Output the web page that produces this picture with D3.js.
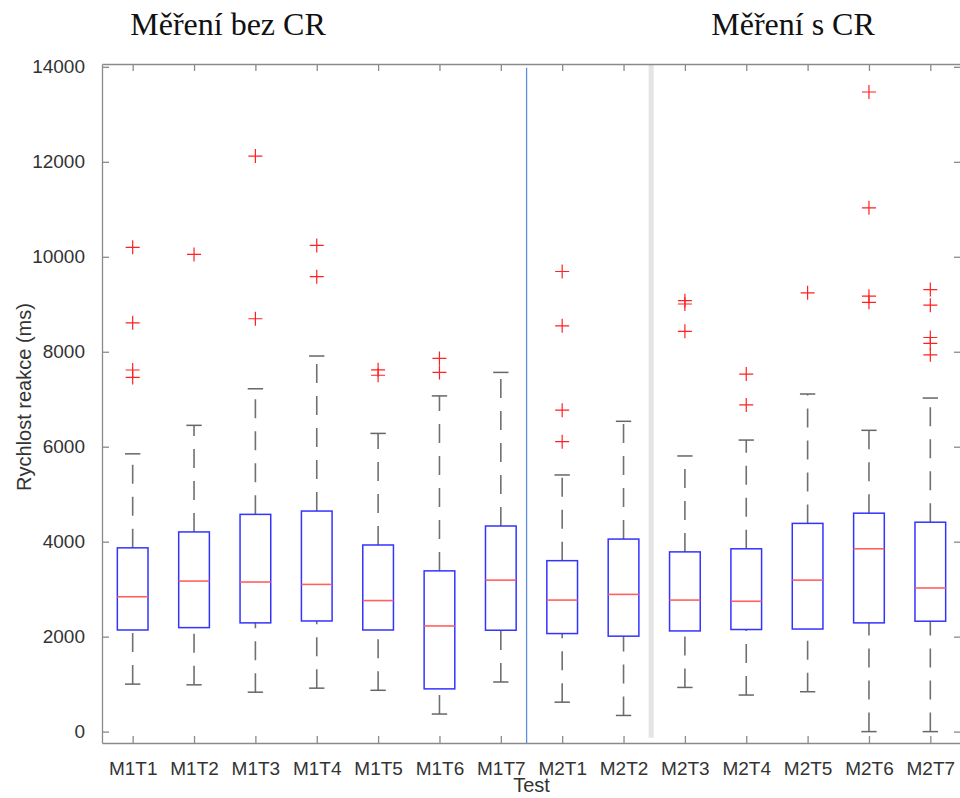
<!DOCTYPE html>
<html>
<head>
<meta charset="utf-8">
<script src="https://cdn.jsdelivr.net/npm/d3@7"></script>
<style>
	body { margin: 0; background: #fff; }
	text { font-family: "Liberation Sans", Arial, sans-serif; }
</style>
</head>
<body>
<svg id="chart" width="960" height="798"></svg>
<script>

	var tests = ["M1T1","M1T2","M1T3","M1T4","M1T5","M1T6","M1T7","M2T1","M2T2","M2T3","M2T4","M2T5","M2T6","M2T7"];

	// box statistics (ms)
	var lowWhisker  = [1000, 985, 830, 915, 870, 370, 1045, 620, 340, 930, 770, 840, 0, 0];
	var q1          = [2140, 2190, 2290, 2330, 2140, 900, 2135, 2065, 2010, 2120, 2150, 2160, 2290, 2325];
	var median      = [2840, 3170, 3150, 3100, 2760, 2225, 3190, 2770, 2890, 2770, 2745, 3190, 3850, 3025];
	var q3          = [3870, 4205, 4575, 4645, 3930, 3385, 4330, 3600, 4055, 3785, 3850, 4385, 4600, 4410];
	var highWhisker = [5850, 6450, 7220, 7910, 6280, 7070, 7565, 5405, 6535, 5805, 6140, 7110, 6345, 7025];
	var outliers = [
		[10200, 8610, 7615, 7460],
		[10050],
		[12120, 8695],
		[10240, 9580],
		[7620, 7505],
		[7860, 7565],
		[],
		[9690, 8545, 6770, 6105],
		[],
		[9075, 9005, 8430],
		[7530, 6880],
		[9240],
		[13470, 11030, 9170, 9040],
		[9310, 8980, 8300, 8175, 7935]
	];

	var yTicks = [0, 2000, 4000, 6000, 8000, 10000, 12000, 14000];
	var groupTitles = ["Měření bez CR", "Měření s CR"];
	var splitLine = 7.42, thickLine = 9.45;

	var m = { left: 102, right: 961, top: 64, bottom: 743 };
	var axisColor = "#8a8a8a", textColor = "#333";

	var x = d3.scaleLinear().domain([0.5, tests.length + 0.5]).range([m.left, m.right]);
	var y = d3.scaleLinear().domain([-240, 14060]).range([m.bottom, m.top]);

	var svg = d3.select("#chart");

	var boxes = tests.map(function(t, i) {
		return { name: t, pos: i + 1, lo: lowWhisker[i], q1: q1[i], med: median[i],
			q3: q3[i], hi: highWhisker[i], out: outliers[i] };
	});

	// separators between measurement groups
	svg.append("line")
		.attr("x1", x(thickLine)).attr("x2", x(thickLine))
		.attr("y1", m.top).attr("y2", y(-130))
		.attr("stroke", "#e4e4e4").attr("stroke-width", 5);

	svg.append("line")
		.attr("x1", x(splitLine)).attr("x2", x(splitLine))
		.attr("y1", y(13980)).attr("y2", m.bottom)
		.attr("stroke", "#5b8ee0").attr("stroke-width", 1.3);

	var g = svg.selectAll("g.box").data(boxes).enter().append("g").attr("class", "box");

	// whiskers run from low to high value, like matlab draws them
	function whisker(sel, from, to) {
		sel.append("line")
			.attr("x1", function(d){ return x(d.pos); })
			.attr("x2", function(d){ return x(d.pos); })
			.attr("y1", function(d){ return y(d[from]); })
			.attr("y2", function(d){ return y(d[to]); })
			.attr("stroke", "#707070").attr("stroke-width", 1.6)
			.attr("stroke-dasharray", "19,13");
	}
	whisker(g, "lo", "q1");
	whisker(g, "q3", "hi");

	["lo", "hi"].forEach(function(k) {
		g.append("line")
			.attr("x1", function(d){ return x(d.pos - 0.125); })
			.attr("x2", function(d){ return x(d.pos + 0.125); })
			.attr("y1", function(d){ return y(d[k]); })
			.attr("y2", function(d){ return y(d[k]); })
			.attr("stroke", "#666").attr("stroke-width", 1.5);
	});

	g.append("rect")
		.attr("x", function(d){ return x(d.pos - 0.25); })
		.attr("width", x(1.5) - x(1))
		.attr("y", function(d){ return y(d.q3); })
		.attr("height", function(d){ return y(d.q1) - y(d.q3); })
		.attr("fill", "none").attr("stroke", "#3333ff").attr("stroke-width", 1.5);

	g.append("line")
		.attr("x1", function(d){ return x(d.pos - 0.25); })
		.attr("x2", function(d){ return x(d.pos + 0.25); })
		.attr("y1", function(d){ return y(d.med); })
		.attr("y2", function(d){ return y(d.med); })
		.attr("stroke", "#ff6060").attr("stroke-width", 1.6);

	g.selectAll("path.out")
		.data(function(d){ return d.out.map(function(v){ return { pos: d.pos, v: v }; }); })
		.enter().append("path")
		.attr("class", "out")
		.attr("d", "M-7,0H7M0,-7V7")
		.attr("transform", function(d){ return "translate(" + x(d.pos) + "," + y(d.v) + ")"; })
		.attr("stroke", "#ff2020").attr("stroke-width", 1.2).attr("fill", "none");

	// axes, matlab style box with inward ticks
	var tickLen = 7;
	var xAxis = d3.axisBottom(x).tickValues(d3.range(1, tests.length + 1))
		.tickFormat(function(d){ return tests[d - 1]; })
		.tickSizeInner(-tickLen).tickSizeOuter(0).tickPadding(19);
	var yAxis = d3.axisLeft(y).tickValues(yTicks).tickFormat(d3.format("d"))
		.tickSizeInner(-tickLen).tickSizeOuter(0).tickPadding(17);

	svg.append("g").attr("transform", "translate(0," + m.bottom + ")").call(xAxis);
	svg.append("g").attr("transform", "translate(" + m.left + ",0)").call(yAxis);
	svg.append("g").attr("transform", "translate(0," + m.top + ")")
		.call(d3.axisTop(x).tickValues(d3.range(1, tests.length + 1)).tickFormat("").tickSizeInner(-tickLen).tickSizeOuter(0));
	svg.append("g").attr("transform", "translate(" + m.right + ",0)")
		.call(d3.axisRight(y).tickValues(yTicks).tickFormat("").tickSizeInner(-tickLen).tickSizeOuter(0));

	svg.selectAll(".domain").attr("stroke", axisColor).attr("stroke-width", 1.3);
	svg.selectAll(".tick line").attr("stroke", axisColor).attr("stroke-width", 1.3);
	svg.selectAll(".tick text").attr("fill", textColor).style("font-size", "19px")
		.style("font-family", "'Liberation Sans', Arial, sans-serif");

	svg.append("text")
		.attr("x", (m.left + m.right) / 2).attr("y", 792)
		.attr("text-anchor", "middle").attr("fill", textColor)
		.style("font-size", "20px").text("Test");

	svg.append("text")
		.attr("transform", "translate(31,397) rotate(-90)")
		.attr("text-anchor", "middle").attr("fill", textColor)
		.style("font-size", "20px").text("Rychlost reakce (ms)");

	svg.selectAll("text.title").data(groupTitles).enter().append("text")
		.attr("class", "title")
		.attr("x", function(d, i){ return i ? 793 : 228; })
		.attr("y", 35)
		.attr("text-anchor", "middle").attr("fill", "#111")
		.style("font-family", "'Liberation Serif', 'DejaVu Serif', serif")
		.style("font-size", "32px")
		.text(function(d){ return d; });

</script>
</body>
</html>
